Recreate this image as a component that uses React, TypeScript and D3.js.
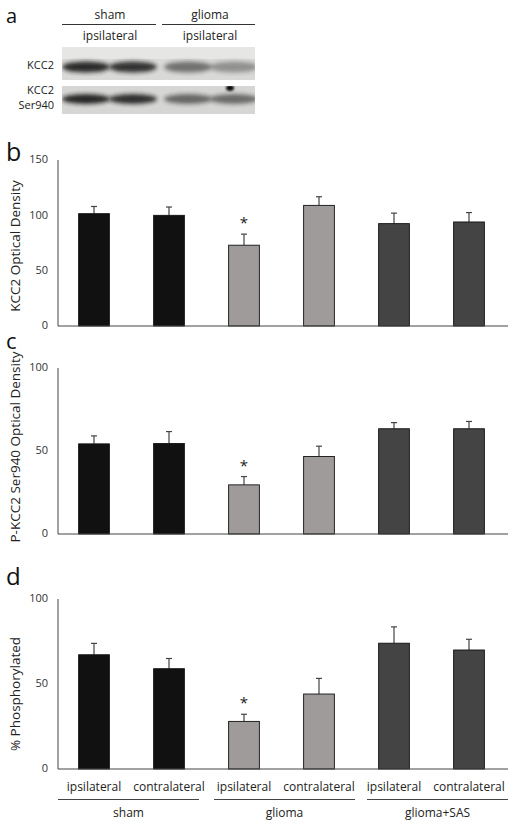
import React from "react";
import * as d3 from "d3";

// ---- Data ----
const categories = ["sham ipsi", "sham contra", "glioma ipsi", "glioma contra", "SAS ipsi", "SAS contra"];
const xLabels = ["ipsilateral", "contralateral", "ipsilateral", "contralateral", "ipsilateral", "contralateral"];
const groupLabels = ["sham", "glioma", "glioma+SAS"];
const barGroups = [0, 0, 1, 1, 2, 2];

const kcc2Values = [101.5, 100, 73, 109, 92.5, 94];
const kcc2Errors = [6.5, 7.5, 10, 7.8, 9.5, 8.5];
const kcc2Ticks = [0, 50, 100, 150];

const pkccValues = [54.3, 54.5, 29.6, 46.7, 63.4, 63.4];
const pkccErrors = [4.8, 7.2, 5, 6.2, 3.7, 4.4];
const pkccTicks = [0, 50, 100];

const phosValues = [67.2, 59, 28, 44.1, 74, 70];
const phosErrors = [6.7, 6, 4.2, 9.2, 9.6, 6.3];
const phosTicks = [0, 50, 100];

const significant = [false, false, true, false, false, false];

// western blot lane intensities (0 = none, 1 = darkest)
const blotLanesKCC2 = [0.92, 0.88, 0.55, 0.38];
const blotLanesSer = [0.95, 0.9, 0.6, 0.58];

const FONT = "'Open Sans', 'Noto Sans', sans-serif";
const barColors = ["#111111", "#9f9b9a", "#444444"];

const x = d3.scaleBand<string>().domain(categories).range([56.5, 506.5]).paddingInner(0.59).paddingOuter(0.295);

type PanelProps = {
  values: number[];
  errors: number[];
  ticks: number[];
  yMax: number;
  y0: number;
  y1: number;
  title: string;
  titleY: number;
  letter: string;
  letterY: number;
  letterSize: number;
};

function Panel({ values, errors, ticks, yMax, y0, y1, title, titleY, letter, letterY, letterSize }: PanelProps) {
  const y = d3.scaleLinear().domain([0, yMax]).range([y0, y1]);
  const bw = x.bandwidth();
  return (
    <g>
      <text x={6} y={letterY} fontFamily={FONT} fontSize={letterSize} fill="#111">{letter}</text>
      <text transform={`translate(20,${titleY}) rotate(-90)`} textAnchor="middle" fontFamily={FONT} fontSize={13.5} fill="#222">{title}</text>
      {ticks.map((t) => (
        <text key={t} x={48} y={y(t)} dy="0.3em" textAnchor="end" fontFamily={FONT} fontSize={11} fill="#333">{t}</text>
      ))}
      {values.map((v, i) => {
        const cx = (x(categories[i]) as number) + bw / 2;
        const top = y(v);
        const et = y(v + errors[i]);
        return (
          <g key={i}>
            <line x1={cx} x2={cx} y1={top} y2={et} stroke="#444" strokeWidth={1.2} />
            <line x1={cx - 3} x2={cx + 3} y1={et} y2={et} stroke="#444" strokeWidth={1.2} />
            <rect x={x(categories[i])} y={top} width={bw} height={y0 - top} fill={barColors[barGroups[i]]} stroke="#111" strokeWidth={0.9} />
            {significant[i] && (
              <text x={cx} y={et - 6} textAnchor="middle" fontFamily={FONT} fontSize={15} fill="#222">*</text>
            )}
          </g>
        );
      })}
      <line x1={58} x2={58} y1={y1} y2={y0} stroke="#444" strokeWidth={1} />
      <line x1={58} x2={508} y1={y0} y2={y0} stroke="#444" strokeWidth={1} />
    </g>
  );
}

function Blot() {
  const lanes = [86, 133, 188, 234];
  return (
    <g>
      <defs>
        <filter id="blur" x="-30%" y="-80%" width="160%" height="260%">
          <feGaussianBlur stdDeviation="2.2" />
        </filter>
        <filter id="blur2" x="-30%" y="-80%" width="160%" height="260%">
          <feGaussianBlur stdDeviation="1.2" />
        </filter>
        <clipPath id="clip1"><rect x={62} y={47} width={193} height={33} /></clipPath>
        <clipPath id="clip2"><rect x={62} y={86} width={193} height={28} /></clipPath>
      </defs>
      <text x={6} y={23} fontFamily={FONT} fontSize={20} fill="#111">a</text>
      <text x={110} y={19} textAnchor="middle" fontFamily={FONT} fontSize={12} fill="#222">sham</text>
      <text x={210} y={19} textAnchor="middle" fontFamily={FONT} fontSize={12} fill="#222">glioma</text>
      <line x1={62} x2={156} y1={24.5} y2={24.5} stroke="#333" strokeWidth={1} />
      <line x1={162} x2={255} y1={24.5} y2={24.5} stroke="#333" strokeWidth={1} />
      <text x={110} y={40} textAnchor="middle" fontFamily={FONT} fontSize={12} fill="#222">ipsilateral</text>
      <text x={210} y={40} textAnchor="middle" fontFamily={FONT} fontSize={12} fill="#222">ipsilateral</text>
      <text x={54} y={69} textAnchor="end" fontFamily={FONT} fontSize={11} fill="#222">KCC2</text>
      <text x={54} y={94} textAnchor="end" fontFamily={FONT} fontSize={11} fill="#222">KCC2</text>
      <text x={54} y={109} textAnchor="end" fontFamily={FONT} fontSize={11} fill="#222">Ser940</text>
      <g clipPath="url(#clip1)">
        <rect x={62} y={47} width={193} height={33} fill="#d9d9d7" />
        <rect x={62} y={47} width={193} height={12} fill="#e6e6e4" />
        {blotLanesKCC2.map((v, i) => (
          <ellipse key={i} cx={lanes[i]} cy={67} rx={24} ry={5.5} fill="#1a1a1a" opacity={v} filter="url(#blur)" />
        ))}
      </g>
      <g clipPath="url(#clip2)">
        <rect x={62} y={86} width={193} height={28} fill="#d6d6d4" />
        {blotLanesSer.map((v, i) => (
          <ellipse key={i} cx={lanes[i]} cy={99} rx={24} ry={5} fill="#1a1a1a" opacity={v} filter="url(#blur)" />
        ))}
        <ellipse cx={230} cy={88} rx={4} ry={3} fill="#111" filter="url(#blur2)" />
      </g>
    </g>
  );
}

export default function App() {
  const bw = x.bandwidth();
  const groupSpans: [number, number][] = [[58, 199], [214, 355], [367, 508]];
  return (
    <svg width={518} height={830} style={{ position: "absolute", left: 0, top: 0, background: "#fff" }}>
      <rect width={518} height={830} fill="#fff" />
      <Blot />
      <Panel values={kcc2Values} errors={kcc2Errors} ticks={kcc2Ticks} yMax={150} y0={326} y1={160}
        title="KCC2 Optical Density" titleY={246} letter="b" letterY={161} letterSize={25} />
      <Panel values={pkccValues} errors={pkccErrors} ticks={pkccTicks} yMax={100} y0={534} y1={368}
        title="P-KCC2 Ser940 Optical Density" titleY={447} letter="c" letterY={349} letterSize={22} />
      <Panel values={phosValues} errors={phosErrors} ticks={phosTicks} yMax={100} y0={769} y1={599}
        title="% Phosphorylated" titleY={694} letter="d" letterY={585} letterSize={24} />
      {xLabels.map((l, i) => (
        <text key={i} x={(x(categories[i]) as number) + bw / 2} y={791} textAnchor="middle" fontFamily={FONT} fontSize={12} fill="#222">{l}</text>
      ))}
      {groupLabels.map((g, i) => (
        <g key={g}>
          <line x1={groupSpans[i][0]} x2={groupSpans[i][1]} y1={799.5} y2={799.5} stroke="#444" strokeWidth={1} />
          <text x={(groupSpans[i][0] + groupSpans[i][1]) / 2} y={817} textAnchor="middle" fontFamily={FONT} fontSize={12} fill="#222">{g}</text>
        </g>
      ))}
    </svg>
  );
}
